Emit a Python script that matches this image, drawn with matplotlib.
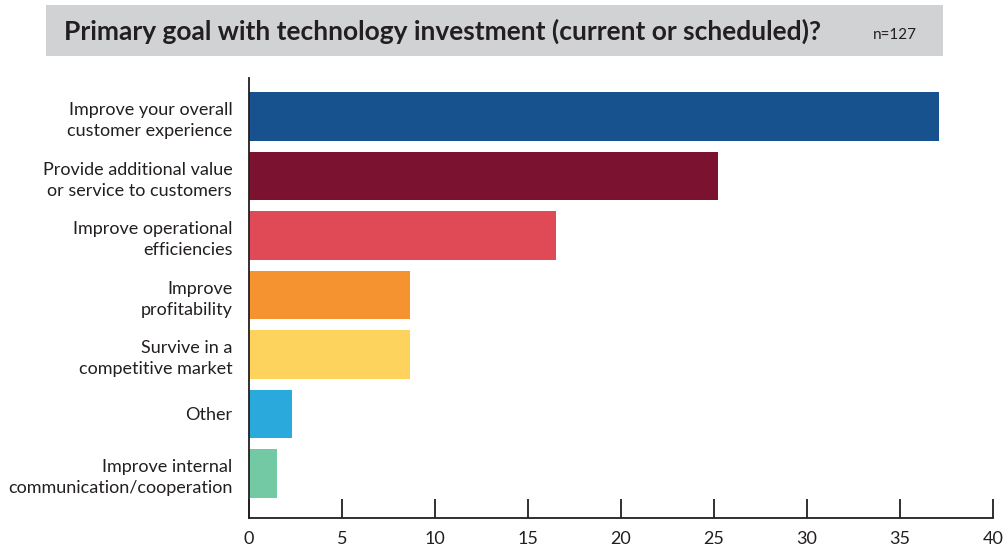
import matplotlib.pyplot as plt
from matplotlib.patches import Rectangle

# survey responses (percent of n=127)
goals = [
    "Improve your overall\ncustomer experience",
    "Provide additional value\nor service to customers",
    "Improve operational\nefficiencies",
    "Improve\nprofitability",
    "Survive in a\ncompetitive market",
    "Other",
    "Improve internal\ncommunication/cooperation",
]
shares = [37.1, 25.2, 16.5, 8.66, 8.66, 2.3, 1.5]
bar_colors = ["#17528f", "#7b1230", "#e04a57", "#f69331", "#fdd35e", "#2aa9dc", "#74c9a5"]
x_ticks = [0, 5, 10, 15, 20, 25, 30, 35, 40]

text_color = "#231f20"
plt.rcParams['font.family'] = ['Lato', 'DejaVu Sans']

fig = plt.figure(figsize=(10.06, 5.48), dpi=100)
ax = fig.add_axes([249 / 1006, 1 - 518 / 548, 744 / 1006, 440 / 548])

pos = list(range(len(goals)))
ax.barh(pos, shares, height=0.82, color=bar_colors)

ax.set_xlim(0, 40)
ax.set_ylim(6.75, -0.65)
ax.set_xticks(x_ticks)
ax.set_xticklabels([str(t) for t in x_ticks])
ax.set_yticks(pos)
ax.set_yticklabels(goals, fontsize=13, color=text_color, linespacing=1.4)

ax.tick_params(axis='x', direction='in', length=14, width=1.3, color=text_color,
               labelsize=13, labelcolor=text_color, pad=9)
ax.tick_params(axis='y', length=0, pad=12)
for lbl in ax.get_yticklabels():
    lbl.set_horizontalalignment('right')

for side in ['top', 'right']:
    ax.spines[side].set_visible(False)
for side in ['left', 'bottom']:
    ax.spines[side].set_color(text_color)
    ax.spines[side].set_linewidth(1.3)

# grey title band
fig.patches.append(Rectangle((46 / 1006, 1 - 56 / 548), 897 / 1006, 51 / 548,
                             transform=fig.transFigure, facecolor="#d1d2d4",
                             edgecolor='none', zorder=0))
fig.text(64 / 1006, 1 - 31 / 548, "Primary goal with technology investment (current or scheduled)?",
         fontsize=19, fontweight='bold', color=text_color, va='center', ha='left')
fig.text(873 / 1006, 1 - 35 / 548, "n=127", fontsize=11, color=text_color,
         va='center', ha='left')

fig.savefig("out.png", dpi=100)
